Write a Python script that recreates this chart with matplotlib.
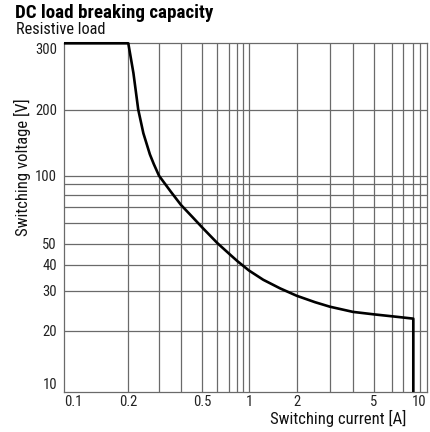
import numpy as np
import matplotlib
matplotlib.use("Agg")
import matplotlib.pyplot as plt
from matplotlib import font_manager

# curve
current = [0.1, 0.2, 0.214, 0.228, 0.244, 0.266, 0.28, 0.3, 0.35, 0.4, 0.45, 0.5,
           0.6, 0.7, 0.8, 1.0, 1.23, 1.57, 2.0, 2.5, 3.0, 4.0, 5.0, 6.5, 8.0, 8.0]
voltage = [300, 300, 250, 200, 156, 125, 113, 100, 83, 71.4, 63.5, 57.5,
           50.2, 44.8, 41.6, 37.6, 33.9, 30.8, 28.5, 26.7, 25.5, 24.2, 23.6, 23.0, 22.6, 10]

x_grid = [0.1, 0.2, 0.3, 0.4, 0.5, 0.6, 0.7, 0.8, 0.9, 1, 2, 3, 4, 5, 6, 7, 8, 9, 10]
x_ticks = [0.1, 0.2, 0.5, 1, 2, 5, 10]
x_ticklabels = ["0.1", "0.2", "0.5", "1", "2", "5", "10"]
y_grid = [10, 20, 30, 40, 50, 60, 70, 80, 90, 100, 200, 300]
y_ticks = [10, 20, 30, 40, 50, 100, 200, 300]
y_ticklabels = ["10", "20", "30", "40", "50", "100", "200", "300"]

# the printed grid is hand drawn and not evenly logarithmic;
# distance of each grid line from the lower left corner (px)
x_grid_pos = [0, 64.3, 95, 117, 138.3, 153.3, 165.5, 173.5, 179.3, 185,
              232.7, 266, 289, 310, 327.7, 339.3, 349.3, 356.5, 362.7]
y_grid_pos = [0, 61.3, 101.3, 127, 148.5, 169.3, 185.3, 197, 207.7, 216.3, 282.5, 348.7]


def make_scale(values, pos):
    lv = np.log10(values)
    pos = np.asarray(pos, dtype=float)
    slope_lo = (pos[1] - pos[0]) / (lv[1] - lv[0])
    slope_hi = (pos[-1] - pos[-2]) / (lv[-1] - lv[-2])

    def fwd(v):
        v = np.log10(np.clip(np.asarray(v, dtype=float), 1e-6, None))
        out = np.interp(v, lv, pos)
        out = np.where(v < lv[0], pos[0] + (v - lv[0]) * slope_lo, out)
        out = np.where(v > lv[-1], pos[-1] + (v - lv[-1]) * slope_hi, out)
        return out

    def inv(p):
        p = np.asarray(p, dtype=float)
        out = np.interp(p, pos, lv)
        out = np.where(p < pos[0], lv[0] + (p - pos[0]) / slope_lo, out)
        out = np.where(p > pos[-1], lv[-1] + (p - pos[-1]) / slope_hi, out)
        return 10 ** out

    return fwd, inv


def pick_font():
    names = {f.name for f in font_manager.fontManager.ttflist}
    for fam in ["Liberation Sans Narrow", "Roboto Condensed", "Open Sans Condensed"]:
        if fam in names:
            return fam, "normal"
    for f in font_manager.fontManager.ttflist:
        if f.name == "DejaVu Sans" and "condensed" in str(f.stretch):
            return "DejaVu Sans", "condensed"
    return "Liberation Sans", "normal"


fam, stretch = pick_font()
plt.rcParams["font.family"] = [fam, "DejaVu Sans"]
plt.rcParams["font.stretch"] = stretch

fig = plt.figure(figsize=(4.31, 4.32), dpi=100)
ax = fig.add_axes([64 / 431, 40 / 432, 362.7 / 431, 348.7 / 432])

ax.set_xscale("function", functions=make_scale(x_grid, x_grid_pos))
ax.set_yscale("function", functions=make_scale(y_grid, y_grid_pos))
ax.set_xlim(0.1, 10)
ax.set_ylim(10, 300)

grid_col = "#6a6a6a"
for xv in x_grid[1:-1]:
    ax.axvline(xv, color=grid_col, lw=0.9, zorder=1)
for yv in y_grid[1:-1]:
    ax.axhline(yv, color=grid_col, lw=0.9, zorder=1)

ax.plot(current, voltage, color="black", lw=1.9, zorder=3, clip_on=False,
        solid_joinstyle="round", solid_capstyle="butt")

ax.set_xticks(x_ticks)
ax.set_xticklabels(x_ticklabels)
ax.set_yticks(y_ticks)
ax.set_yticklabels(y_ticklabels)
ax.minorticks_off()
ax.tick_params(length=0, labelsize=10.5, colors="#222222", pad=2)
ax.tick_params(axis="y", pad=5)
xl = ax.get_xticklabels()
xl[0].set_ha("left")
xl[-1].set_ha("right")
yl = ax.get_yticklabels()
yl[0].set_va("bottom")
yl[-1].set_va("top")

for s in ax.spines.values():
    s.set_color(grid_col)
    s.set_linewidth(0.9)

fig.text(15 / 431, 1 - 18.5 / 432, "DC load breaking capacity", fontsize=13.7,
         fontweight="bold", ha="left", va="baseline")
fig.text(16 / 431, 1 - 34.3 / 432, "Resistive load", fontsize=11.8,
         ha="left", va="baseline", color="#111111")
fig.text(338 / 431, 1 - 424 / 432, "Switching current [A]", fontsize=12,
         ha="center", va="baseline", color="#111111")
fig.text(22 / 431, 1 - 167 / 432, "Switching voltage [V]", fontsize=12,
         ha="center", va="center", rotation=90, color="#111111")

fig.savefig("out.png", dpi=100)
